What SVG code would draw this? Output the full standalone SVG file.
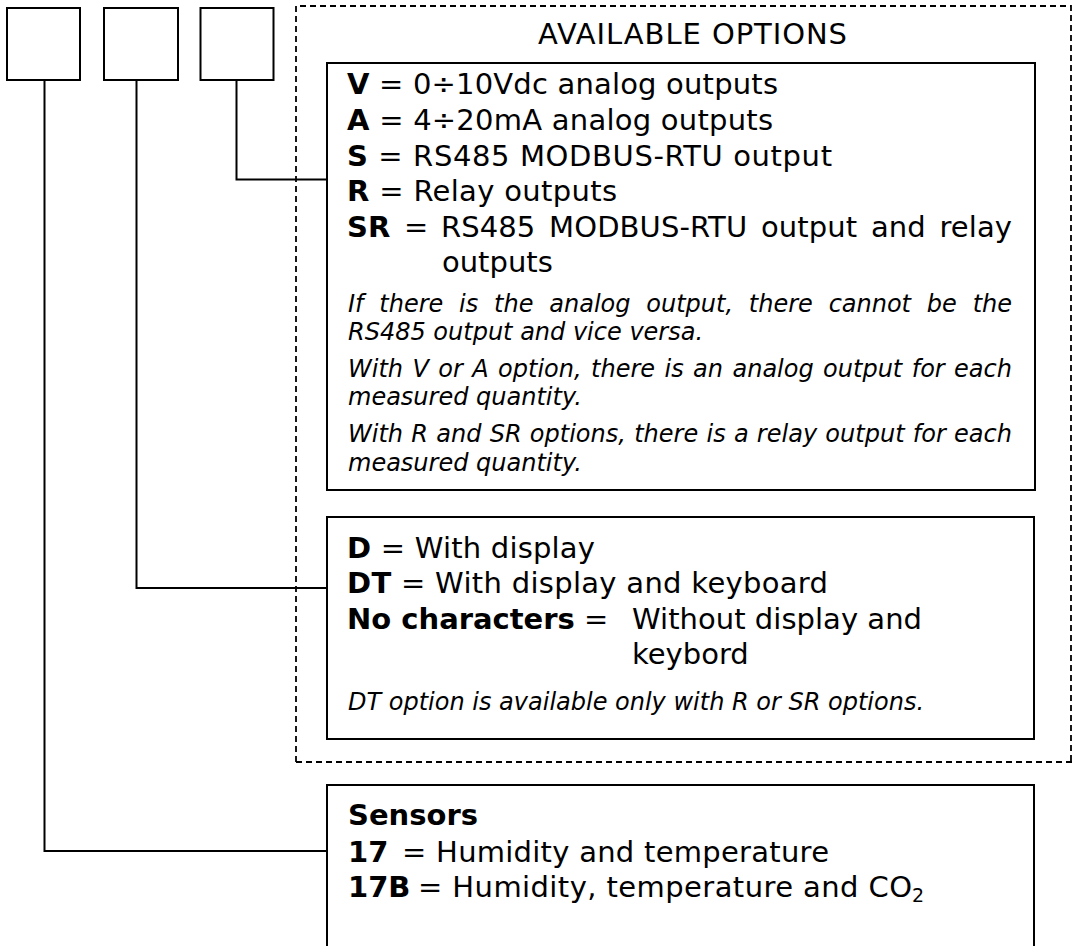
<svg xmlns="http://www.w3.org/2000/svg" width="1072" height="946" viewBox="0 0 1072 946">
<style>
  .box { fill: #fff; stroke: #000; stroke-width: 2; }
  .conn { fill: none; stroke: #000; stroke-width: 2; }
  .dash { fill: none; stroke: #000; stroke-width: 1.8; stroke-dasharray: 6 4; }
  text { font-family: "DejaVu Sans", Verdana, sans-serif; fill: #000; }
  .t { font-size: 29px; }
  .b { font-weight: bold; }
  .i { font-size: 24px; font-style: italic; }
</style>
<rect width="1072" height="946" fill="#fff"/>

<g id="options-group">
  <path class="dash" d="M296 762 V6 H1071 V762 M296 762 H1072"/>
  <text id="available-title" class="t" x="538" y="44.3" textLength="309" lengthAdjust="spacing">AVAILABLE OPTIONS</text>
</g>

<g id="connectors">
  <path class="conn" d="M44.5 80 V851 H327"/>
  <path class="conn" d="M136.5 80 V588 H327"/>
  <path class="conn" d="M236.5 80 V179.5 H327"/>
</g>

<g id="code-box-1"><rect class="box" x="7" y="8" width="73" height="72"/></g>
<g id="code-box-2"><rect class="box" x="104" y="8" width="74" height="72"/></g>
<g id="code-box-3"><rect class="box" x="200.5" y="8" width="73" height="72"/></g>

<g id="outputs-box">
  <rect class="box" x="327" y="63" width="708" height="427"/>
  <text class="t" x="347" y="94.3" textLength="431" lengthAdjust="spacing"><tspan class="b">V</tspan> = 0÷10Vdc analog outputs</text>
  <text class="t" x="347" y="130" textLength="426" lengthAdjust="spacing"><tspan class="b">A</tspan> = 4÷20mA analog outputs</text>
  <text class="t" x="347" y="165.7" textLength="485" lengthAdjust="spacing"><tspan class="b">S</tspan> = RS485 MODBUS-RTU output</text>
  <text class="t" x="347" y="201" textLength="270" lengthAdjust="spacing"><tspan class="b">R</tspan> = Relay outputs</text>
  <text class="t" x="347" y="237"><tspan class="b">SR</tspan></text>
  <text class="t" x="404" y="237">=</text>
  <text class="t" x="441" y="237" word-spacing="4.4" textLength="571" lengthAdjust="spacing">RS485 MODBUS-RTU output and relay</text>
  <text class="t" x="442" y="272">outputs</text>
  <text class="i" x="348" y="311.7" word-spacing="8.2" textLength="664" lengthAdjust="spacing">If there is the analog output, there cannot be the</text>
  <text class="i" x="348" y="340">RS485 output and vice versa.</text>
  <text class="i" x="348" y="376.7" word-spacing="1.8" textLength="664" lengthAdjust="spacing">With V or A option, there is an analog output for each</text>
  <text class="i" x="348" y="405">measured quantity.</text>
  <text class="i" x="348" y="442.3" word-spacing="0.6" textLength="664" lengthAdjust="spacing">With R and SR options, there is a relay output for each</text>
  <text class="i" x="348" y="470.7">measured quantity.</text>
</g>

<g id="display-box">
  <rect class="box" x="327" y="517" width="707" height="222"/>
  <text class="t" x="347" y="558.3" textLength="248" lengthAdjust="spacing"><tspan class="b">D</tspan> = With display</text>
  <text class="t" x="347" y="592.7" textLength="481" lengthAdjust="spacing"><tspan class="b">DT</tspan> = With display and keyboard</text>
  <text class="t" x="347" y="629"><tspan class="b">No characters</tspan> =</text>
  <text class="t" x="632" y="629" textLength="290" lengthAdjust="spacing">Without display and</text>
  <text class="t" x="632" y="664.3">keybord</text>
  <text class="i" x="348" y="710">DT option is available only with R or SR options.</text>
</g>

<g id="sensors-box">
  <rect class="box" x="327" y="785" width="707" height="180"/>
  <text class="t b" x="348" y="825">Sensors</text>
  <text class="t b" x="348" y="861.5">17</text>
  <text class="t" x="402" y="861.5" textLength="427" lengthAdjust="spacing">= Humidity and temperature</text>
  <text class="t b" x="348" y="896.5">17B</text>
  <text class="t" x="418" y="896.5" textLength="494" lengthAdjust="spacing">= Humidity, temperature and CO</text>
  <text class="t" x="912" y="902" style="font-size:19px">2</text>
</g>
</svg>
